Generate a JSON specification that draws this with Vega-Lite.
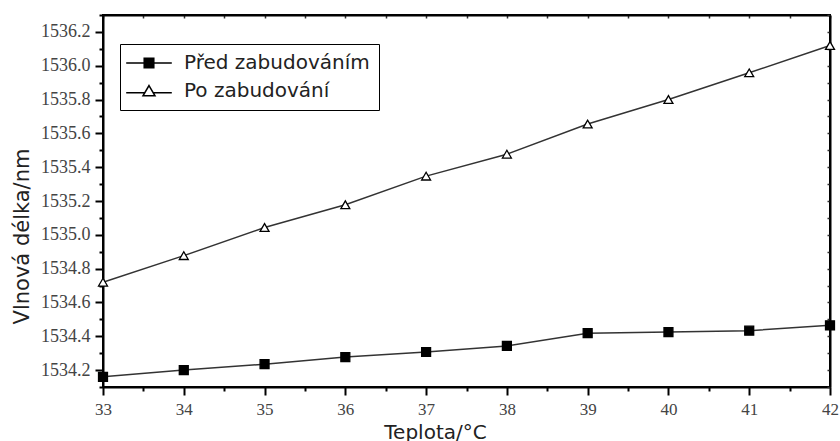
{
  "$schema": "https://vega.github.io/schema/vega-lite/v6.json",
  "width": 727,
  "height": 372,
  "autosize": {"type": "none"},
  "padding": {"left": 103, "top": 15, "right": 10, "bottom": 54},
  "background": "white",
  "config": {"view": {"stroke": "black", "strokeWidth": 2}, "font": "DejaVu Sans"},
  "data": {"values": [
    {"t": 33, "wl": 1534.16, "series": "Před zabudováním"},
    {"t": 34, "wl": 1534.20, "series": "Před zabudováním"},
    {"t": 35, "wl": 1534.235, "series": "Před zabudováním"},
    {"t": 36, "wl": 1534.277, "series": "Před zabudováním"},
    {"t": 37, "wl": 1534.307, "series": "Před zabudováním"},
    {"t": 38, "wl": 1534.343, "series": "Před zabudováním"},
    {"t": 39, "wl": 1534.418, "series": "Před zabudováním"},
    {"t": 40, "wl": 1534.425, "series": "Před zabudováním"},
    {"t": 41, "wl": 1534.433, "series": "Před zabudováním"},
    {"t": 42, "wl": 1534.465, "series": "Před zabudováním"},
    {"t": 33, "wl": 1534.72, "series": "Po zabudování"},
    {"t": 34, "wl": 1534.877, "series": "Po zabudování"},
    {"t": 35, "wl": 1535.043, "series": "Po zabudování"},
    {"t": 36, "wl": 1535.178, "series": "Po zabudování"},
    {"t": 37, "wl": 1535.347, "series": "Po zabudování"},
    {"t": 38, "wl": 1535.477, "series": "Po zabudování"},
    {"t": 39, "wl": 1535.655, "series": "Po zabudování"},
    {"t": 40, "wl": 1535.80, "series": "Po zabudování"},
    {"t": 41, "wl": 1535.958, "series": "Po zabudování"},
    {"t": 42, "wl": 1536.12, "series": "Po zabudování"}
  ]},
  "layer": [
    {
      "mark": {"type": "line", "color": "#333333", "strokeWidth": 1.5},
      "encoding": {
        "x": {"field": "t", "type": "quantitative",
          "scale": {"domain": [33, 42], "nice": false, "zero": false},
          "axis": {"orient": "bottom", "title": "Teplota/°C", "grid": false,
            "values": [33, 33.5, 34, 34.5, 35, 35.5, 36, 36.5, 37, 37.5, 38, 38.5, 39, 39.5, 40, 40.5, 41, 41.5, 42],
            "labelExpr": "datum.value % 1 == 0 ? '' + datum.value : ''",
            "tickSize": {"condition": {"test": "datum.value % 1 == 0", "value": 8}, "value": 4},
            "tickColor": "black", "tickWidth": 2,
            "domainColor": "black", "domainWidth": 2,
            "labelFont": "Liberation Serif", "labelFontSize": 17, "labelColor": "#444444",
            "labelPadding": 6, "labelFlush": false, "labelOverlap": false,
            "titleFont": "DejaVu Sans", "titleFontSize": 20, "titleFontWeight": "normal", "titleColor": "#222222",
            "titlePadding": 5, "titleX": 332}},
        "y": {"field": "wl", "type": "quantitative",
          "scale": {"domain": [1534.1, 1536.3], "nice": false, "zero": false},
          "axis": {"orient": "left", "title": "Vlnová délka/nm", "grid": false,
            "values": [1534.1, 1534.2, 1534.3, 1534.4, 1534.5, 1534.6, 1534.7, 1534.8, 1534.9, 1535.0, 1535.1, 1535.2, 1535.3, 1535.4, 1535.5, 1535.6, 1535.7, 1535.8, 1535.9, 1536.0, 1536.1, 1536.2, 1536.3],
            "labelExpr": "round(datum.value*10) % 2 == 0 ? format(datum.value, '.1f') : ''",
            "tickSize": {"condition": {"test": "round(datum.value*10) % 2 == 0", "value": 8}, "value": 4},
            "tickColor": "black", "tickWidth": 2,
            "domainColor": "black", "domainWidth": 2,
            "labelFont": "Liberation Serif", "labelFontSize": 18, "labelColor": "#444444",
            "labelPadding": 5, "labelFlush": false, "labelOverlap": false,
            "titleFont": "DejaVu Sans", "titleFontSize": 21, "titleFontWeight": "normal", "titleColor": "#222222",
            "titleX": -71, "titleY": 221}},
        "detail": {"field": "series"}
      }
    },
    {
      "mark": {"type": "point", "filled": false, "color": "black", "strokeWidth": 1.3, "opacity": 1, "size": 80},
      "encoding": {
        "x": {"field": "t", "type": "quantitative",
          "axis": {"orient": "top", "title": null, "labels": false, "grid": false,
            "values": [33, 33.5, 34, 34.5, 35, 35.5, 36, 36.5, 37, 37.5, 38, 38.5, 39, 39.5, 40, 40.5, 41, 41.5, 42],
            "tickSize": -3, "tickColor": "#333333", "tickWidth": 1.5,
            "domainColor": "black", "domainWidth": 2}},
        "y": {"field": "wl", "type": "quantitative",
          "axis": {"orient": "right", "title": null, "labels": false, "grid": false,
            "values": [1534.1, 1534.2, 1534.3, 1534.4, 1534.5, 1534.6, 1534.7, 1534.8, 1534.9, 1535.0, 1535.1, 1535.2, 1535.3, 1535.4, 1535.5, 1535.6, 1535.7, 1535.8, 1535.9, 1536.0, 1536.1, 1536.2, 1536.3],
            "tickSize": -3, "tickColor": "#333333", "tickWidth": 1.5,
            "domainColor": "black", "domainWidth": 2}},
        "shape": {"field": "series", "type": "nominal",
          "scale": {"domain": ["Před zabudováním", "Po zabudování"], "range": ["square", "triangle-up"]},
          "legend": null},
        "fill": {"field": "series", "type": "nominal",
          "scale": {"domain": ["Před zabudováním", "Po zabudování"], "range": ["black", "white"]},
          "legend": null}
      }
    },
    {
      "transform": [{"filter": "datum.t < 0"}],
      "mark": {"type": "point", "filled": false, "color": "black", "strokeWidth": 1.5, "opacity": 1},
      "encoding": {
        "shape": {"field": "series", "type": "nominal",
          "scale": {"domain": ["Před zabudováním", "Po zabudování"],
            "range": ["M-3.8,0H3.8M-0.8,-0.8H0.8V0.8H-0.8ZM-0.8,-0.6H0.8M-0.8,-0.4H0.8M-0.8,-0.2H0.8M-0.8,0.2H0.8M-0.8,0.4H0.8M-0.8,0.6H0.8", "M-3.8,0.3H-0.71M0.71,0.3H3.8M0,-0.9L1,0.8H-1Z"]},
          "legend": {"orient": "none", "legendX": 17, "legendY": 29, "direction": "vertical", "title": null,
            "labelFont": "DejaVu Sans", "labelFontSize": 20, "labelColor": "#222222", "labelLimit": 400,
            "symbolSize": 144, "symbolOffset": 10, "labelOffset": 25, "rowPadding": 8, "padding": 9,
            "strokeColor": "black", "symbolStrokeWidth": 1.5, "symbolFillColor": "white",
            "encode": {
              "legend": {"strokeWidth": {"value": 2}},
              "symbols": {
                "stroke": {"value": "black"},
                "strokeWidth": {"value": 1.5},
                "opacity": {"value": 1}}}}},
        "fill": {"field": "series", "type": "nominal",
          "scale": {"domain": ["Před zabudováním", "Po zabudování"], "range": ["black", "white"]},
          "legend": null}
      }
    }
  ],
  "resolve": {"scale": {"shape": "independent"}, "axis": {"x": "independent", "y": "independent"}}
}
